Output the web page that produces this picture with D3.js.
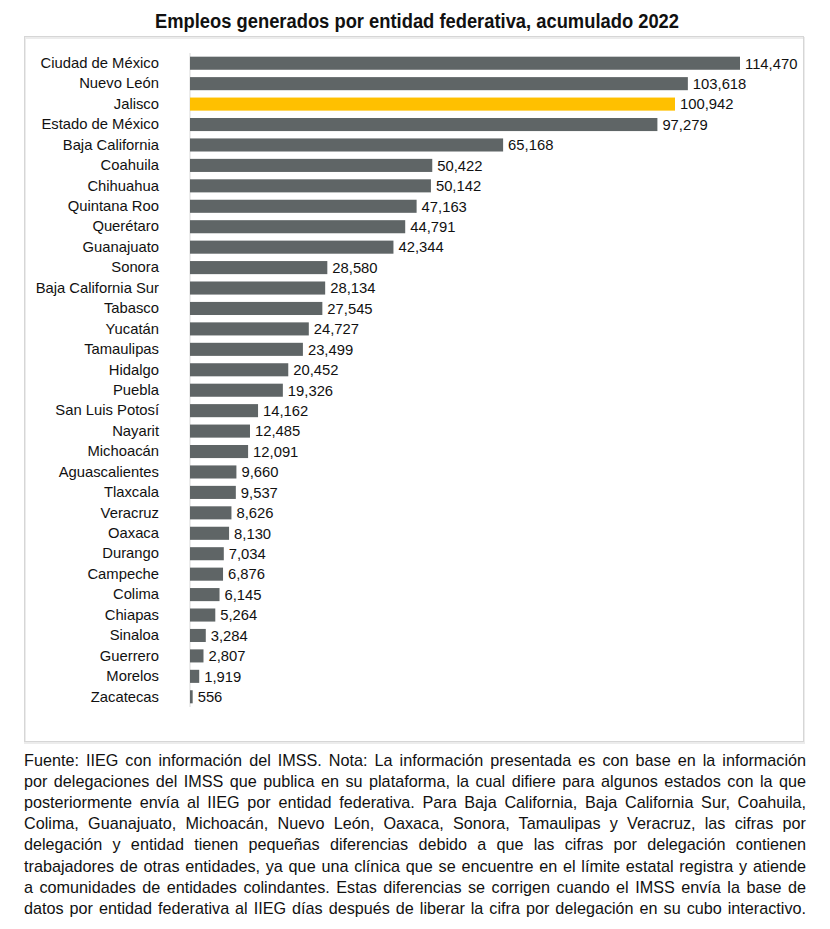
<!DOCTYPE html>
<html><head><meta charset="utf-8">
<script src="https://cdn.jsdelivr.net/npm/d3@7"></script>
<style>
body{margin:0;background:#fff;width:830px;height:929px;overflow:hidden;}
</style></head><body>
<svg id="c" width="830" height="929"></svg>
<script>
const states = ["Ciudad de México","Nuevo León","Jalisco","Estado de México","Baja California","Coahuila","Chihuahua","Quintana Roo","Querétaro","Guanajuato","Sonora","Baja California Sur","Tabasco","Yucatán","Tamaulipas","Hidalgo","Puebla","San Luis Potosí","Nayarit","Michoacán","Aguascalientes","Tlaxcala","Veracruz","Oaxaca","Durango","Campeche","Colima","Chiapas","Sinaloa","Guerrero","Morelos","Zacatecas"];
const empleos = [114470,103618,100942,97279,65168,50422,50142,47163,44791,42344,28580,28134,27545,24727,23499,20452,19326,14162,12485,12091,9660,9537,8626,8130,7034,6876,6145,5264,3284,2807,1919,556];
const highlight = "Jalisco";
const title = "Empleos generados por entidad federativa, acumulado 2022";
const noteLines = [
 "Fuente: IIEG con información del IMSS. Nota: La información presentada es con base en la información",
 "por delegaciones del IMSS que publica en su plataforma, la cual difiere para algunos estados con la que",
 "posteriormente envía al IIEG por entidad federativa. Para Baja California, Baja California Sur, Coahuila,",
 "Colima, Guanajuato, Michoacán, Nuevo León, Oaxaca, Sonora, Tamaulipas y Veracruz, las cifras por",
 "delegación y entidad tienen pequeñas diferencias debido a que las cifras por delegación contienen",
 "trabajadores de otras entidades, ya que una clínica que se encuentre en el límite estatal registra y atiende",
 "a comunidades de entidades colindantes. Estas diferencias se corrigen cuando el IMSS envía la base de",
 "datos por entidad federativa al IIEG días después de liberar la cifra por delegación en su cubo interactivo."
];

const svg = d3.select("#c");
const sans = '"Liberation Sans",Arial,sans-serif';

svg.append("text").attr("x",155).attr("y",28)
  .attr("textLength",524).attr("lengthAdjust","spacingAndGlyphs")
  .style("font-family",sans).style("font-weight","bold").style("font-size","19.5px").attr("fill","#111").text(title);

// frame
svg.append("rect").attr("x",25).attr("y",38).attr("width",779).attr("height",705)
  .attr("fill","none").attr("stroke","#ececec").attr("stroke-width",2);
svg.append("rect").attr("x",24.5).attr("y",36.5).attr("width",779).attr("height",705)
  .attr("fill","none").attr("stroke","#d6d6d6").attr("stroke-width",1);

const x = d3.scaleLinear().domain([0,114470]).range([190,740]);
const y = d3.scaleBand().domain(states).range([53,707]).paddingInner(0.36).paddingOuter(0.18);

svg.append("line").attr("x1",x(0)).attr("x2",x(0)).attr("y1",53).attr("y2",707).attr("stroke","#d9d9d9");

const data = states.map((s,i)=>({s,v:empleos[i]}));
svg.selectAll("rect.bar").data(data).join("rect").attr("class","bar")
  .attr("x",x(0)).attr("y",d=>y(d.s)).attr("width",d=>Math.max(1.5,x(d.v)-x(0))).attr("height",y.bandwidth())
  .attr("fill",d=>d.s===highlight?"#FFC000":"#5F6566");

const fmt = d3.format(",");
svg.selectAll("text.val").data(data).join("text").attr("class","val")
  .attr("x",d=>x(d.v)+5).attr("y",d=>y(d.s)+y.bandwidth()/2).attr("dy","0.36em")
  .style("font-family",sans).style("font-size","14.8px").attr("fill","#111").text(d=>fmt(d.v));

const yAxis = d3.axisLeft(y).tickSize(0).tickPadding(31);
const g = svg.append("g").attr("transform",`translate(${x(0)},0)`).call(yAxis);
g.select(".domain").remove();
g.selectAll("text").style("font-family",sans).style("font-size","14.8px").attr("fill","#111");

// footnote, justified lines (word spacing) in a condensed rendering
const left = 24, width = 782;
const ng = svg.append("g");
const lines = ng.selectAll("text").data(noteLines).join("text")
  .attr("x",0).attr("y",(d,i)=>766+i*21.1)
  .style("font-family",sans).style("font-size","16.2px").attr("fill","#111")
  .text(d=>d);
let sx = 1;
lines.each(function(){ sx = Math.min(sx, (width-2)/this.getComputedTextLength()); });
ng.attr("transform",`translate(${left},0) scale(${sx},1)`);
lines.each(function(d){
  const w = this.getComputedTextLength();
  const target = width/sx;
  const n = (d.match(/ /g)||[]).length;
  d3.select(this).attr("word-spacing", ((target - w)/n).toFixed(3));
});
</script>
</body></html>
